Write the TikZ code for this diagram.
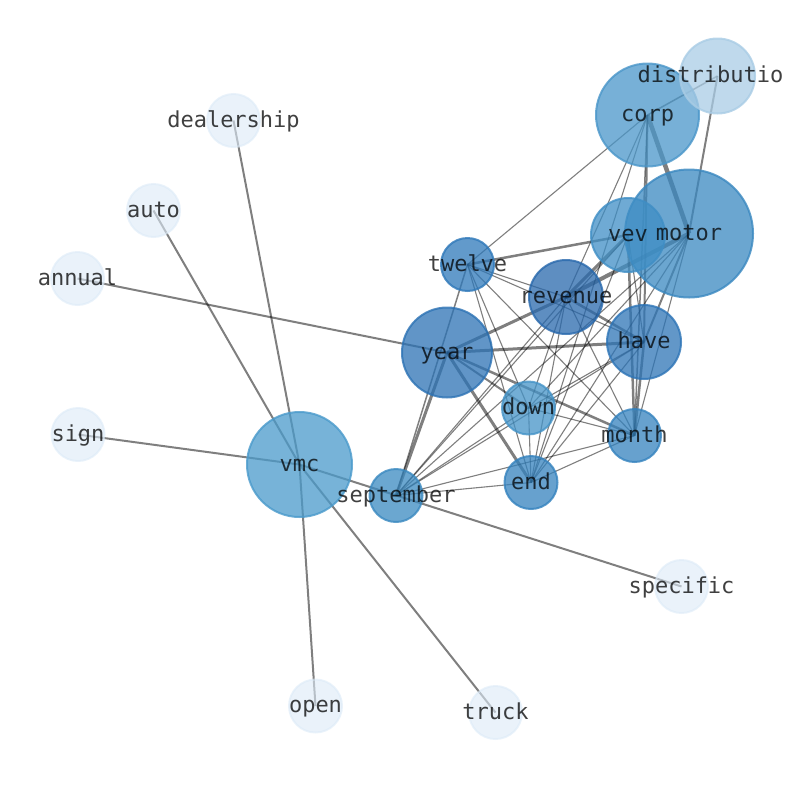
\documentclass[tikz,border=0pt]{standalone}
\usepackage{fontspec}
\setmonofont{DejaVu Sans Mono}
\usetikzlibrary{backgrounds}
\definecolor{cCorp}{HTML}{4A96C9}
\definecolor{cMotor}{HTML}{3A88C0}
\definecolor{cVev}{HTML}{3F8EC5}
\definecolor{cTwelve}{HTML}{2E78B9}
\definecolor{cRevenue}{HTML}{2868AC}
\definecolor{cYear}{HTML}{2C72B4}
\definecolor{cHave}{HTML}{2D74B6}
\definecolor{cDown}{HTML}{4493C7}
\definecolor{cMonth}{HTML}{3482BE}
\definecolor{cEnd}{HTML}{3482BE}
\definecolor{cSep}{HTML}{3A89C0}
\definecolor{cVmc}{HTML}{4A9ACB}
\definecolor{cDist}{HTML}{A9CCE5}
\definecolor{cLight}{HTML}{DCEAF7}
\tikzset{
  bub/.style={circle, inner sep=0pt, minimum size=#1, line width=2pt},
  fc/.style={fill=#1, fill opacity=0.75, draw=#1, draw opacity=0.8},
  lt/.style={fill=cLight, fill opacity=0.6, draw=cLight, draw opacity=0.6},
  e/.style={draw=black, draw opacity=0.5, line width=#1},
  e/.default=1.1pt,
  lbl/.style={inner sep=0pt, anchor=base, yshift=-6.5pt, text=black, text opacity=0.75, font=\ttfamily\fontsize{22}{26}\selectfont}
}
\begin{document}
\begin{tikzpicture}[x=1pt,y=-1pt]
\useasboundingbox (0,0) rectangle (794,790);
% bubbles
\node[bub=103pt, fc=cCorp] (corp) at (647.5,115) {};
\node[bub=75pt, fc=cDist] (dist) at (717.5,76) {};
\node[bub=128pt, fc=cMotor] (motor) at (689,233.5) {};
\node[bub=74pt, fc=cVev] (vev) at (628,235) {};
\node[bub=53pt, fc=cTwelve] (twelve) at (467.5,264.5) {};
\node[bub=74pt, fc=cRevenue] (revenue) at (566,297) {};
\node[bub=90pt, fc=cYear] (year) at (447,352.5) {};
\node[bub=74pt, fc=cHave] (have) at (644,342) {};
\node[bub=53pt, fc=cDown] (down) at (528.5,408) {};
\node[bub=53pt, fc=cMonth] (month) at (634.5,435.5) {};
\node[bub=53pt, fc=cEnd] (end) at (531,482.5) {};
\node[bub=53pt, fc=cSep] (sep) at (396,495.5) {};
\node[bub=105pt, fc=cVmc] (vmc) at (299.5,464.5) {};
\node[bub=53pt, lt] (dealership) at (233.5,120.5) {};
\node[bub=53pt, lt] (auto) at (153.5,210.5) {};
\node[bub=53pt, lt] (annual) at (77.5,278.5) {};
\node[bub=53pt, lt] (sign) at (78,434.5) {};
\node[bub=53pt, lt] (open) at (315.5,706) {};
\node[bub=53pt, lt] (truck) at (495.5,712.5) {};
\node[bub=53pt, lt] (specific) at (681.5,586.5) {};
% edges
\begin{scope}[on background layer]
\draw[e=2pt] (dealership.center) -- (vmc.center);
\draw[e=2pt] (auto.center) -- (vmc.center);
\draw[e=2pt] (sign.center) -- (vmc.center);
\draw[e=2pt] (open.center) -- (vmc.center);
\draw[e=2pt] (truck.center) -- (vmc.center);
\draw[e=2pt] (vmc.center) -- (specific.center);
\draw[e=2pt] (annual.center) -- (year.center);
\draw[e=1.5pt] (dist.center) -- (corp.center);
\draw[e=2pt] (dist.center) -- (motor.center);
\draw[e=4.5pt] (corp.center) -- (motor.center);
\draw[e] (corp.center) -- (twelve.center);
\draw[e=2pt] (corp.center) -- (have.center);
\draw[e=1.5pt] (corp.center) -- (month.center);
\draw[e] (corp.center) -- (end.center);
\draw[e] (corp.center) -- (revenue.center);
\draw[e=2.5pt] (vev.center) -- (twelve.center);
\draw[e=3pt] (vev.center) -- (revenue.center);
\draw[e=2.5pt] (vev.center) -- (month.center);
\draw[e] (vev.center) -- (have.center);
\draw[e] (vev.center) -- (end.center);
\draw[e] (vev.center) -- (sep.center);
\draw[e=4pt] (motor.center) -- (revenue.center);
\draw[e=2pt] (motor.center) -- (have.center);
\draw[e] (motor.center) -- (down.center);
\draw[e] (motor.center) -- (end.center);
\draw[e] (motor.center) -- (sep.center);
\draw[e] (motor.center) -- (month.center);
\draw[e] (twelve.center) -- (revenue.center);
\draw[e] (twelve.center) -- (have.center);
\draw[e] (twelve.center) -- (down.center);
\draw[e] (twelve.center) -- (end.center);
\draw[e] (twelve.center) -- (month.center);
\draw[e=1.5pt] (twelve.center) -- (sep.center);
\draw[e=3pt] (revenue.center) -- (year.center);
\draw[e=2.5pt] (revenue.center) -- (have.center);
\draw[e] (revenue.center) -- (down.center);
\draw[e] (revenue.center) -- (end.center);
\draw[e] (revenue.center) -- (month.center);
\draw[e] (revenue.center) -- (sep.center);
\draw[e=3pt] (year.center) -- (have.center);
\draw[e=2.5pt] (year.center) -- (month.center);
\draw[e=2pt] (year.center) -- (down.center);
\draw[e=3pt] (year.center) -- (end.center);
\draw[e=3pt] (year.center) -- (sep.center);
\draw[e] (have.center) -- (down.center);
\draw[e] (have.center) -- (end.center);
\draw[e=2.5pt] (have.center) -- (month.center);
\draw[e] (have.center) -- (sep.center);
\draw[e] (down.center) -- (end.center);
\draw[e] (down.center) -- (month.center);
\draw[e] (down.center) -- (sep.center);
\draw[e] (end.center) -- (month.center);
\draw[e] (end.center) -- (sep.center);
\draw[e] (month.center) -- (sep.center);
\end{scope}
% labels
\node[lbl] (corp-t) at (corp) {corp};
\node[lbl, xshift=-7pt] (dist-t) at (dist) {distributio};
\node[lbl] (motor-t) at (motor) {motor};
\node[lbl] (vev-t) at (vev) {vev};
\node[lbl] (twelve-t) at (twelve) {twelve};
\node[lbl] (revenue-t) at (revenue) {revenue};
\node[lbl] (year-t) at (year) {year};
\node[lbl] (have-t) at (have) {have};
\node[lbl] (down-t) at (down) {down};
\node[lbl] (month-t) at (month) {month};
\node[lbl] (end-t) at (end) {end};
\node[lbl] (sep-t) at (sep) {september};
\node[lbl] (vmc-t) at (vmc) {vmc};
\node[lbl] (dealership-t) at (dealership) {dealership};
\node[lbl] (auto-t) at (auto) {auto};
\node[lbl] (annual-t) at (annual) {annual};
\node[lbl] (sign-t) at (sign) {sign};
\node[lbl] (open-t) at (open) {open};
\node[lbl] (truck-t) at (truck) {truck};
\node[lbl] (specific-t) at (specific) {specific};
\end{tikzpicture}
\end{document}
